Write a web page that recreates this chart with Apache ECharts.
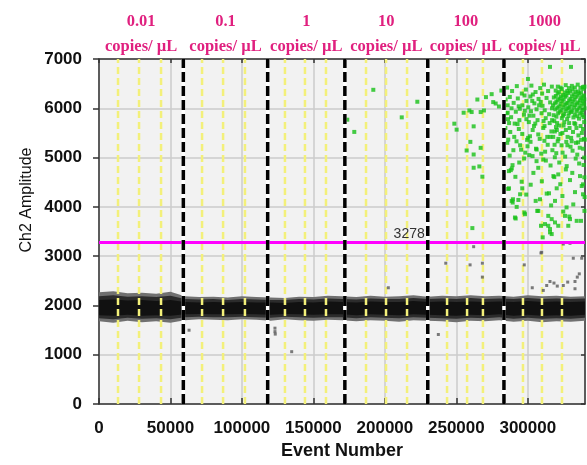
<!DOCTYPE html>
<html><head><meta charset="utf-8">
<script src="https://cdn.jsdelivr.net/npm/echarts/dist/echarts.min.js"></script>
<style>html,body{margin:0;padding:0;background:#fff}#c{width:587px;height:465px}</style>
</head><body><div id="c"></div>
<script>
// ---------- data ----------
const concentrations = ['0.01', '0.1', '1', '10', '100', '1000'];
const unitLabel = 'copies/ µL';
const sampleBounds = [59000, 118000, 172000, 230000, 283300];
const wellBounds = [13300, 28000, 43400, 72100, 86800, 102100, 130100, 144100, 158800,
  186800, 200800, 215500, 243500, 257500, 268600, 296600, 309900, 323900];
const threshold = 3278;
const xTicks = [0, 50000, 100000, 150000, 200000, 250000, 300000];
const yTicks = [0, 1000, 2000, 3000, 4000, 5000, 6000, 7000];
const xMax = 340000;

// negative droplet band envelope
const bandX = [0,10000,20000,30000,40000,50000,60000,70000,80000,90000,100000,110000,120000,130000,140000,150000,160000,170000,180000,190000,200000,210000,220000,230000,240000,250000,260000,270000,280000,290000,300000,310000,320000,330000,340000];
const outerUp = [2270,2290,2250,2260,2240,2280,2190,2170,2180,2160,2190,2170,2160,2150,2180,2170,2200,2190,2170,2200,2180,2190,2210,2180,2200,2190,2210,2190,2200,2180,2210,2190,2200,2180,2190];
const outerLo = [1680,1650,1690,1660,1680,1650,1700,1720,1710,1700,1720,1710,1690,1720,1700,1690,1710,1700,1680,1700,1690,1670,1700,1690,1680,1660,1690,1680,1700,1670,1690,1660,1680,1670,1690];
const midUp = [2190,2210,2180,2190,2170,2200,2130,2120,2130,2110,2130,2120,2110,2110,2130,2120,2140,2130,2120,2140,2130,2130,2150,2130,2140,2130,2150,2130,2140,2130,2150,2130,2140,2130,2140];
const midLo = [1740,1720,1750,1730,1740,1720,1760,1770,1760,1760,1770,1760,1750,1770,1760,1750,1760,1760,1740,1760,1750,1740,1760,1750,1740,1730,1750,1740,1760,1730,1750,1730,1740,1730,1750];
const coreUp = [2110,2120,2100,2110,2090,2110,2070,2060,2070,2060,2070,2060,2060,2050,2070,2060,2080,2070,2060,2080,2070,2070,2090,2070,2080,2070,2080,2070,2080,2070,2090,2070,2080,2070,2080];
const coreLo = [1800,1790,1810,1790,1800,1790,1820,1830,1820,1820,1830,1820,1810,1830,1820,1810,1820,1820,1800,1820,1810,1800,1820,1810,1800,1790,1810,1800,1820,1790,1810,1790,1800,1790,1810];

// negative outlier droplets (gray)
const negOutliers = [[63000,1499],[123100,1540],[123100,1470],[123300,1420],[134800,1063],[202400,2360],
  [242600,2858],[259600,2824],[268200,2858],[268200,2576],[237400,1412],[262100,3193],
  [297500,2824],[309200,3066],[303100,2360],[310800,2306],[313200,2406],[315500,2487],[318300,2455],
  [320600,2394],[324800,2406],[327900,2475],[333000,2487],[334600,2576],[336000,2642],[331800,2959],
  [337700,2959],[333000,2340],[324800,3247],[329500,3261],[309700,3080]];

// positive droplets (green)
const positives = [
  [173700,5769],[178600,5521],[191900,6375],[211800,5816],[222700,6133],
  [281500,6360],[274700,6287],[270700,6227],[264700,6178],[275800,6126],[277500,6097],[279800,6037],
  [259100,5956],[260700,5924],[255100,5910],[267000,5924],[269300,5956],[248600,5688],[250200,5567],
  [262100,5634],[259800,5319],[257200,5144],[267000,5198],[262100,5063],[262100,4794],[266100,4821],
  [268200,4613],[261200,3570],
  [285900,5910],[286300,5365],[286800,4726],[286800,4377],
  [315500,6840],[330200,6840],[300100,6595],
  [321000,6440],[326500,6470],[330800,6455],[334900,6480],[338600,6430],
  [319500,6360],[323800,6390],[327600,6350],[331200,6380],[335000,6340],[338900,6395],
  [320900,6300],[324700,6270],[328300,6310],[332100,6285],[336000,6300],[339200,6260],
  [318200,6220],[322400,6200],[326200,6235],[329800,6190],[333500,6225],[337300,6205],[339500,6180],
  [320000,6130],[324000,6150],[327900,6110],[331500,6140],[335300,6120],[338700,6150],
  [317600,6060],[321900,6040],[325800,6070],[329400,6030],[333100,6065],[336900,6045],[339400,6080],
  [319300,5980],[323500,5960],[327200,5990],[331000,5950],[334700,5975],[338300,5960],
  [321200,5900],[325300,5880],[329000,5910],[332800,5870],[336600,5895],
  [323800,5800],[327500,5780],[331900,5815],[335800,5790],[339000,5820],
  [323000,6420],[328700,6410],[332900,6420],[336800,6415],[339600,6440],
  [321900,6330],[325800,6320],[329600,6340],[333400,6330],[337200,6325],
  [319600,6250],[323200,6240],[327000,6260],[330900,6245],[334800,6255],[338100,6240],
  [321100,6170],[325100,6180],[328900,6160],[332700,6175],[336500,6165],
  [318900,6100],[323000,6090],[326900,6095],[330600,6085],[334400,6095],[338000,6100],
  [320700,6010],[324700,6020],[328400,6005],[332300,6015],[336000,6010],[339700,6000],
  [322400,5930],[326400,5940],[330200,5925],[334000,5935],[337700,5920],
  [324600,5850],[328400,5845],[334600,5840],[338200,5860],[320000,5830],
  [285500,6420],[289000,6350],[292300,6450],[295800,6300],[298600,6380],[302500,6460],[305400,6330],
  [308700,6410],[311300,6480],[314200,6350],[316800,6440],[310000,6300],[303500,6280],
  [284500,6180],[287400,6230],[290100,6110],[293000,6200],[296200,6060],[299000,6150],[301800,6240],
  [304600,6100],[307500,6190],[310300,6050],[313100,6210],[315600,6120],[288600,6000],[294400,5990],
  [300300,6020],[306100,5980],[311800,5960],[316900,6000],[285900,6060],[297700,6260],[303100,6150],[309000,6130],
  [285200,5900],[288300,5820],[291600,5930],[294100,5760],[297300,5870],[300700,5720],[303900,5850],
  [306800,5760],[309600,5900],[312500,5800],[315300,5700],[318100,5860],[286900,5700],[292800,5680],
  [299000,5780],[305200,5690],[311000,5740],[317000,5760],[320500,5700],[302200,5940],
  [286100,5780],[290800,5690],[293600,6040],[297900,5950],[301200,5850],[304300,5640],[307900,6060],
  [311700,5640],[314900,5880],[318900,5530],
  [284300,5600],[287700,5520],[290500,5420],[293700,5580],[296100,5480],[300200,5400],[303400,5560],
  [307300,5470],[310800,5600],[313600,5420],[316500,5530],[319700,5620],[322800,5480],[326600,5560],
  [330300,5400],[334000,5600],[337800,5500],[325000,5650],[332500,5700],[339300,5380],[328900,5700],
  [318500,5740],[322000,5650],[325500,5720],[329200,5600],[333200,5680],[336900,5640],[339400,5720],
  [320300,5560],[324200,5500],[327800,5420],[331600,5520],[335400,5450],[338600,5580],[317800,5420],
  [321400,5380],[333700,5300],[326900,5320],[318700,5260],[329900,5220],[336300,5200],
  [292100,5330],[295300,5160],[299800,5230],[303300,5030],[308300,5380],[312100,5120],[315800,5420],
  [319900,5090],[323600,5250],[326100,5020],[330700,5330],[334600,5060],[337300,5360],[287300,5040],
  [285600,5300],[289900,5150],[294600,5250],[298200,5100],[301900,5320],[305700,5180],[309400,5080],
  [313900,5260],[317200,5150],[320900,5330],[324300,5100],[327700,5250],[331300,5140],[335200,5310],
  [338700,5180],[299500,5360],[311600,5340],[301500,5433],[306200,5164],
  [288800,4780],[297400,4982],[306100,4928],[312600,4940],[318900,5007],[326600,4760],[289300,4847],
  [288100,4746],[310800,4962],[317900,4625],[327200,4827],[307300,4793],[336500,4625],[329500,4544],
  [337700,4424],[301000,5050],[322000,4900],[333500,4980],[339000,4850],[294000,4900],
  [291300,4610],[303900,4690],[309800,4520],[315900,4840],[322700,4460],[331100,4690],[335900,4880],
  [295700,4511],[296100,4377],[286300,4364],[321300,4659],[318500,4605],[338600,4458],[320200,4377],
  [313200,4270],[314800,4276],[288700,4122],[289600,4155],[293400,4141],[294600,4256],[308500,4155],
  [305500,4122],[319000,4122],[338600,4256],[302000,4450],[333000,4300],[298900,4250],[324200,4220],
  [316300,4030],[331800,4050],[327100,3990],
  [292200,4000],[298000,3852],[291000,3785],[307300,3919],[324800,3906],[326000,3818],[329500,3752],
  [334200,3717],[337200,3717],[339600,3919],[314300,3818],[316700,3752],[319000,3685],[321300,3617],
  [309200,3617],[312000,3651],[315500,3550],[316700,3449],[328300,3617],[306600,3919],[329000,3805],
  [314300,3617],[310400,3382],[315500,3483],[289400,4088],[291500,3765],[297600,3886],
  [339500,4600],[339700,4200],[339400,5000],[339800,5365]
];

// ---------- chart ----------
const chart = echarts.init(document.getElementById('c'), null, {renderer: 'canvas'});
const yMax = yTicks[yTicks.length - 1];
const segEdges = [0].concat(sampleBounds, [xMax]);
const segMids = concentrations.map((c, i) => [(segEdges[i] + segEdges[i + 1]) / 2, yMax, i]);
const axisCol = '#333';
const lblFont = 'Liberation Sans, Arial, sans-serif';

function poly(api, up, lo, color) {
  const pts = [];
  bandX.forEach((x, i) => pts.push(api.coord([x, up[i]])));
  for (let i = bandX.length - 1; i >= 0; i--) pts.push(api.coord([bandX[i], lo[i]]));
  return {type: 'polygon', shape: {points: pts}, style: {fill: color}};
}
function vLines(values, z, style) {
  return {
    type: 'custom', z: z, silent: true, data: values.map(v => [v, 0]),
    renderItem: (params, api) => {
      const a = api.coord([api.value(0), 0]);
      const b = api.coord([api.value(0), yMax]);
      return {type: 'line', shape: {x1: a[0], y1: a[1], x2: b[0], y2: b[1]}, style: style};
    }
  };
}

const option = {
  animation: false,
  backgroundColor: '#fff',
  grid: {left: 99, right: 2, top: 59, bottom: 59, show: true, backgroundColor: '#f2f2f2', borderWidth: 0},
  xAxis: [{
    type: 'value', min: 0, max: xMax, interval: xTicks[1] - xTicks[0], position: 'bottom',
    axisLine: {show: true, onZero: false, lineStyle: {color: axisCol, width: 1.5}},
    axisTick: {show: true, inside: true, length: 6, lineStyle: {color: axisCol, width: 1.5}},
    axisLabel: {margin: 16, fontSize: 17, fontWeight: 'bold', color: '#111', fontFamily: lblFont,
      showMaxLabel: false, formatter: v => (xTicks.indexOf(v) >= 0 ? String(v) : '')},
    splitLine: {show: true, lineStyle: {color: '#cbcbcb', width: 1.5}},
    name: 'Event Number', nameLocation: 'middle', nameGap: 34,
    nameTextStyle: {fontSize: 18, fontWeight: 'bold', color: '#111', fontFamily: lblFont}
  }, {
    type: 'value', min: 0, max: xMax, interval: xTicks[1] - xTicks[0], position: 'top',
    axisLine: {show: true, onZero: false, lineStyle: {color: axisCol, width: 1.5}},
    axisTick: {show: true, inside: true, length: 4, lineStyle: {color: axisCol, width: 1.5}},
    axisLabel: {show: false}, splitLine: {show: false}
  }],
  yAxis: [{
    type: 'value', min: 0, max: yMax, interval: yTicks[1] - yTicks[0], position: 'left',
    axisLine: {show: true, onZero: false, lineStyle: {color: axisCol, width: 1.5}},
    axisTick: {show: true, inside: false, length: 6, lineStyle: {color: axisCol, width: 1.5}},
    axisLabel: {margin: 17, fontSize: 17, fontWeight: 'bold', color: '#111', fontFamily: lblFont,
      formatter: v => String(v)},
    splitLine: {show: true, lineStyle: {color: '#cbcbcb', width: 1.5}}
  }, {
    type: 'value', min: 0, max: yMax, interval: yTicks[1] - yTicks[0], position: 'right',
    axisLine: {show: true, onZero: false, lineStyle: {color: axisCol, width: 1.5}},
    axisTick: {show: true, inside: true, length: 4, lineStyle: {color: axisCol, width: 1.5}},
    axisLabel: {show: false}, splitLine: {show: false}
  }],
  graphic: [{
    type: 'text', x: 27, y: 200, rotation: Math.PI / 2,
    style: {text: 'Ch2 Amplitude', font: '16px "Liberation Sans", Arial, sans-serif', fill: '#111',
      align: 'center', verticalAlign: 'middle'}
  }],
  series: [
    { // droplet band
      type: 'custom', z: 2, silent: true, data: [[0, 0]],
      renderItem: (params, api) => ({
        type: 'group',
        children: [poly(api, outerUp, outerLo, '#707070'), poly(api, midUp, midLo, '#2c2c2c'),
          poly(api, coreUp, coreLo, '#111111')]
      })
    },
    vLines(wellBounds, 3, {stroke: '#f3f07a', lineWidth: 2.5, lineDash: [7, 4]}),
    {
      name: 'negative', type: 'scatter', z: 4, symbol: 'rect', symbolSize: 3, silent: true,
      itemStyle: {color: '#5a5a5a'}, data: negOutliers
    },
    {
      name: 'positive', type: 'scatter', z: 4, symbol: 'rect', symbolSize: 4, silent: true,
      itemStyle: {color: '#16c016'}, data: positives
    },
    { // threshold
      type: 'custom', z: 5, silent: true, data: [[0, threshold]],
      renderItem: (params, api) => {
        const a = api.coord([0, api.value(1)]);
        const b = api.coord([xMax, api.value(1)]);
        return {type: 'line', shape: {x1: a[0], y1: a[1], x2: b[0], y2: b[1]},
          style: {stroke: '#ff00ff', lineWidth: 3}};
      }
    },
    vLines(sampleBounds, 6, {stroke: '#ffffff', lineWidth: 3.5}),
    vLines(sampleBounds, 7, {stroke: '#000000', lineWidth: 3.5, lineDash: [10, 4]}),
    { // threshold label
      type: 'custom', z: 8, silent: true, data: [[sampleBounds[3], threshold]],
      renderItem: (params, api) => {
        const p = api.coord([api.value(0), api.value(1)]);
        return {type: 'text', x: p[0] - 3, y: p[1] - 1,
          style: {text: String(threshold), fill: '#333', font: '14px "Liberation Sans", Arial, sans-serif',
            align: 'right', verticalAlign: 'bottom'}};
      }
    },
    { // concentration labels above plot
      type: 'custom', z: 8, silent: true, data: segMids,
      renderItem: (params, api) => {
        const p = api.coord([api.value(0), api.value(1)]);
        const idx = api.value(2);
        const f = 'bold 16.5px "Liberation Serif", serif';
        return {type: 'group', children: [
          {type: 'text', x: p[0], y: p[1] - 37, style: {text: concentrations[idx], fill: '#e0207f', font: f, align: 'center', verticalAlign: 'middle'}},
          {type: 'text', x: p[0], y: p[1] - 12, style: {text: unitLabel, fill: '#e0207f', font: f, align: 'center', verticalAlign: 'middle'}}
        ]};
      }
    }
  ]
};
chart.setOption(option);
</script>
</body></html>
